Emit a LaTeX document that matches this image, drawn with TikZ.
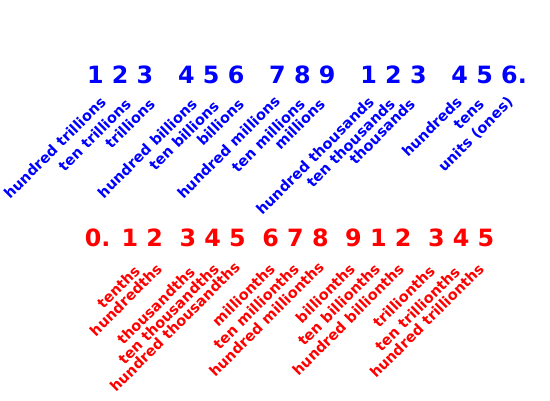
\documentclass[tikz,border=0pt]{standalone}
\usepackage{fontspec}
\setmainfont{DejaVu Sans}
\definecolor{pblue}{RGB}{0,0,255}
\definecolor{pred}{RGB}{255,0,0}
\begin{document}
\begin{tikzpicture}[x=1pt,y=-1pt,
  digits/.style={inner sep=0pt, anchor=base west, font=\fontsize{23.8}{28}\selectfont\bfseries},
  lab/.style={inner sep=0pt, anchor=base east, rotate=45, font=\fontsize{14.5}{17}\selectfont\bfseries},
  bl/.style={text=pblue}, rd/.style={text=pred}]
\useasboundingbox (0,0) rectangle (550,400);
\node[digits,bl] (topdigits) at (86.8,83.5) {1 2 3\ \ \ 4 5 6\ \ \ 7 8 9\ \ \ 1 2 3\ \ \ 4 5 6.};
\node[lab,bl] (b1) at (107,103) {hundred trillions};
\node[lab,bl] (b2) at (132,105) {ten trillions};
\node[lab,bl] (b3) at (156,105) {trillions};
\node[lab,bl] (b4) at (198,105) {hundred billions};
\node[lab,bl] (b5) at (220,107) {ten billions};
\node[lab,bl] (b6) at (245,105) {billions};
\node[lab,bl] (b7) at (281,102) {hundred millions};
\node[lab,bl] (b8) at (306,105) {ten millions};
\node[lab,bl] (b9) at (326,105) {millions};
\node[lab,bl] (b10) at (375,103) {hundred thousands};
\node[lab,bl] (b11) at (396,105) {ten thousands};
\node[lab,bl] (b12) at (416,105) {thousands};
\node[lab,bl] (b13) at (463,103) {hundreds};
\node[lab,bl] (b14) at (485,105) {tens};
\node[lab,bl] (b15) at (514,103) {units (ones)};
\node[digits,rd] (botdigits) at (84.7,246.7) {0. 1 2\ \ 3 4 5\ \ 6 7 8\ \ 9 1 2\ \ 3 4 5};
\node[lab,rd] (r1) at (141,272) {tenths};
\node[lab,rd] (r2) at (163,270) {hundredths};
\node[lab,rd] (r3) at (196,273) {thousandths};
\node[lab,rd] (r4) at (220,270) {ten thousandths};
\node[lab,rd] (r5) at (241,268) {hundred thousandths};
\node[lab,rd] (r6) at (276,270) {millionths};
\node[lab,rd] (r7) at (300,270) {ten millionths};
\node[lab,rd] (r8) at (325,268) {hundred millionths};
\node[lab,rd] (r9) at (356,270) {billionths};
\node[lab,rd] (r10) at (381,270) {ten billionths};
\node[lab,rd] (r11) at (405,270) {hundred billionths};
\node[lab,rd] (r12) at (436,272) {trillionths};
\node[lab,rd] (r13) at (461,273) {ten trillionths};
\node[lab,rd] (r14) at (485,270) {hundred trillionths};
\end{tikzpicture}
\end{document}
